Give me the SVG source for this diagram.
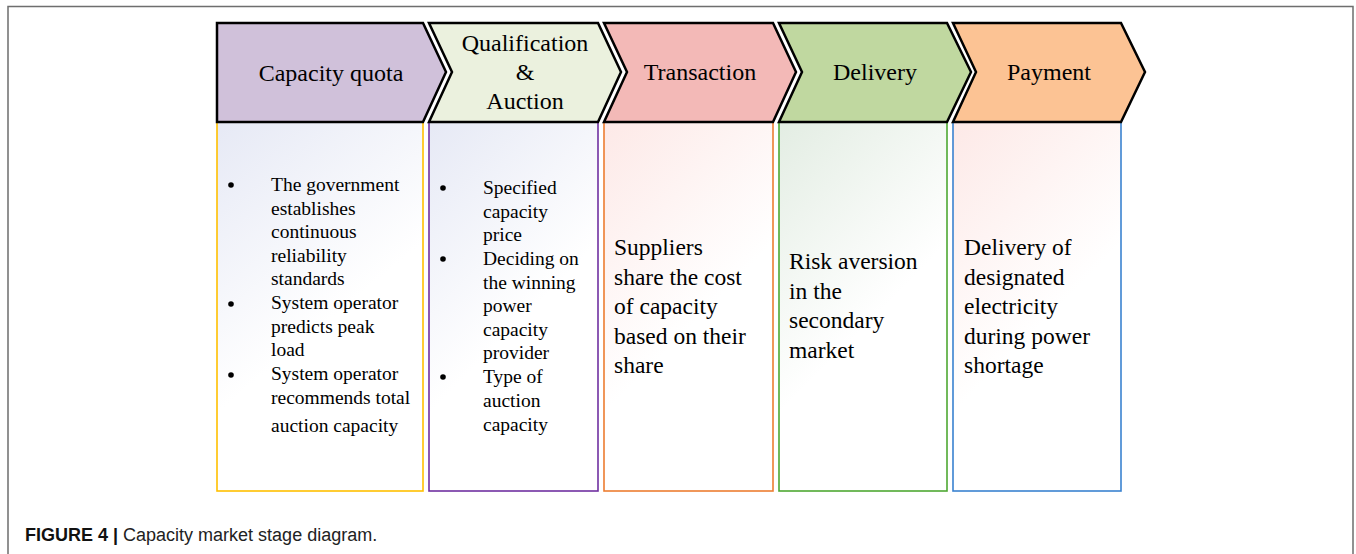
<svg xmlns="http://www.w3.org/2000/svg" width="1356" height="554" viewBox="0 0 1356 554">
<style>
.chev{stroke:#000;stroke-width:2.5;stroke-linejoin:miter}
.lbl{font-family:"Liberation Serif","Times New Roman",serif;font-size:24px;fill:#000;text-anchor:middle}
.box{stroke-width:1.6}
.bul{fill:#000}
.t19{font-family:"Liberation Serif","Times New Roman",serif;font-size:19.5px;fill:#000}
.t23{font-family:"Liberation Serif","Times New Roman",serif;font-size:23.5px;fill:#000}
.cap{font-family:"Liberation Sans",Arial,sans-serif;font-size:18px;fill:#222}
</style>
<defs>
<linearGradient id="gBlue" x1="0" y1="0" x2="0.3" y2="0.65">
<stop offset="0" stop-color="#E6E9F5"/><stop offset="1" stop-color="#FFFFFF"/>
</linearGradient>
<linearGradient id="gPink" x1="0" y1="0" x2="0.3" y2="0.65">
<stop offset="0" stop-color="#FDE9E7"/><stop offset="1" stop-color="#FFFFFF"/>
</linearGradient>
<linearGradient id="gGreen" x1="0" y1="0" x2="0.3" y2="0.65">
<stop offset="0" stop-color="#E3EDE3"/><stop offset="1" stop-color="#FFFFFF"/>
</linearGradient>
</defs>
<rect width="1356" height="554" fill="#FFFFFF"/>
<path d="M8,554 V6.5 H1353 V554" fill="none" stroke="#6E6E6E" stroke-width="1.5"/>

<g id="stage1">
<rect class="box" x="217" y="122" width="206" height="369" fill="url(#gBlue)" stroke="#FFC000"/>
<polygon class="chev" points="217,23 423,23 446,72 423,122 217,122" fill="#D0C1DA"/>
<text class="lbl" x="331" y="81">Capacity quota</text>
<circle class="bul" cx="231" cy="185" r="2.8"/>
<circle class="bul" cx="231" cy="304" r="2.8"/>
<circle class="bul" cx="231" cy="375" r="2.8"/>
<g class="t19">
<text x="271" y="191">The government</text>
<text x="271" y="215">establishes</text>
<text x="271" y="238">continuous</text>
<text x="271" y="262">reliability</text>
<text x="271" y="285">standards</text>
<text x="271" y="309">System operator</text>
<text x="271" y="333">predicts peak</text>
<text x="271" y="356">load</text>
<text x="271" y="380">System operator</text>
<text x="271" y="404">recommends total</text>
<text x="271" y="432">auction capacity</text>
</g>
</g>

<g id="stage2">
<rect class="box" x="429" y="122" width="169" height="369" fill="url(#gBlue)" stroke="#7030A0"/>
<polygon class="chev" points="429,23 598,23 621,72 598,122 429,122 452,72" fill="#EBF1DE"/>
<text class="lbl" x="525" y="51">Qualification</text>
<text class="lbl" x="525" y="80">&amp;</text>
<text class="lbl" x="525" y="109">Auction</text>
<circle class="bul" cx="443" cy="188" r="2.8"/>
<circle class="bul" cx="443" cy="259" r="2.8"/>
<circle class="bul" cx="443" cy="377" r="2.8"/>
<g class="t19">
<text x="483" y="194">Specified</text>
<text x="483" y="218">capacity</text>
<text x="483" y="241">price</text>
<text x="483" y="265">Deciding on</text>
<text x="483" y="289">the winning</text>
<text x="483" y="312">power</text>
<text x="483" y="336">capacity</text>
<text x="483" y="359">provider</text>
<text x="483" y="383">Type of</text>
<text x="483" y="407">auction</text>
<text x="483" y="431">capacity</text>
</g>
</g>

<g id="stage3">
<rect class="box" x="604" y="122" width="169" height="369" fill="url(#gPink)" stroke="#ED7D31"/>
<polygon class="chev" points="604,23 773,23 796,72 773,122 604,122 627,72" fill="#F3B9B7"/>
<text class="lbl" x="700" y="80">Transaction</text>
<g class="t23">
<text x="614" y="255">Suppliers</text>
<text x="614" y="284.5">share the cost</text>
<text x="614" y="314">of capacity</text>
<text x="614" y="343.5">based on their</text>
<text x="614" y="373">share</text>
</g>
</g>

<g id="stage4">
<rect class="box" x="779" y="122" width="168" height="369" fill="url(#gGreen)" stroke="#4EA832"/>
<polygon class="chev" points="779,23 947,23 971,72 947,122 779,122 802,72" fill="#C0D8A0"/>
<text class="lbl" x="875" y="80">Delivery</text>
<g class="t23">
<text x="789" y="269">Risk aversion</text>
<text x="789" y="299">in the</text>
<text x="789" y="328">secondary</text>
<text x="789" y="358">market</text>
</g>
</g>

<g id="stage5">
<rect class="box" x="953" y="122" width="168" height="369" fill="url(#gPink)" stroke="#3A82D0"/>
<polygon class="chev" points="953,23 1121,23 1145,72 1121,122 953,122 976,72" fill="#FCC394"/>
<text class="lbl" x="1049" y="80">Payment</text>
<g class="t23">
<text x="964" y="255">Delivery of</text>
<text x="964" y="284.5">designated</text>
<text x="964" y="314">electricity</text>
<text x="964" y="343.5">during power</text>
<text x="964" y="373">shortage</text>
</g>
</g>

<g id="connectors"></g>

<text class="cap" x="25" y="541"><tspan font-weight="bold" fill="#111">FIGURE 4 | </tspan>Capacity market stage diagram.</text>
</svg>
